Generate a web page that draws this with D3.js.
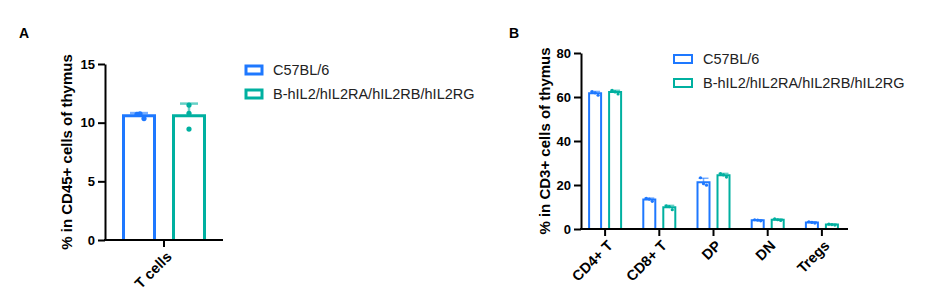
<!DOCTYPE html>
<html>
<head>
<meta charset="utf-8">
<script src="https://cdn.jsdelivr.net/npm/d3@7"></script>
<style>
  body { margin: 0; background: #fff; }
  text { font-family: Arial, "Liberation Sans", sans-serif; }
</style>
</head>
<body>
<script>
// series names and colours (legend order)
var seriesNames = ['C57BL/6', 'B-hIL2/hIL2RA/hIL2RB/hIL2RG'];
var colors = ['#1e78ff', '#00b0a0'];

// panel A: T cells in CD45+ cells, three mice per group
var catsA = ['T cells'];
var a_c57 = [[10.7, 10.75, 10.35]];
var a_hum = [[11.5, 10.8, 9.45]];
var ticksA = [0, 5, 10, 15];

// panel B: subsets in CD3+ cells, three mice per group
var catsB = ['CD4+ T', 'CD8+ T', 'DP', 'DN', 'Tregs'];
var b_c57 = [[62.4, 61.9, 60.8], [13.9, 13.6, 12.6], [23.3, 20.6, 19.9], [4.2, 4.0, 3.7], [3.3, 3.0, 2.7]];
var b_hum = [[63.0, 62.3, 61.4], [10.5, 10.2, 8.8], [25.2, 24.6, 23.6], [4.6, 4.2, 3.9], [2.2, 2.0, 1.8]];
var ticksB = [0, 20, 40, 60, 80];

var svg = d3.select('body').append('svg')
  .attr('width', 928)
  .attr('height', 298);

function stats(v) {
  return { mean: d3.mean(v), sd: d3.deviation(v), pts: v };
}

// draws one bar panel
function panel(opt) {
  var g = svg.append('g');

  var y = d3.scaleLinear().domain(opt.yDomain).range([opt.bottom, opt.top]);
  var x = d3.scaleBand().domain(opt.cats).range(opt.xRange);

  // bars, error bars, points
  opt.series.forEach(function(s, si) {
    s.forEach(function(vals, ci) {
      var st = stats(vals);
      var cx = x(opt.cats[ci]) + x.bandwidth() / 2 + opt.offsets[si];
      var hw = opt.barW / 2;
      var col = colors[si];
      // error (mean + SD only)
      g.append('line')
        .attr('x1', cx).attr('x2', cx)
        .attr('y1', y(st.mean)).attr('y2', y(st.mean + st.sd))
        .attr('stroke', col).attr('stroke-opacity', 0.6).attr('stroke-width', opt.errW);
      g.append('line')
        .attr('x1', cx - opt.capW / 2).attr('x2', cx + opt.capW / 2)
        .attr('y1', y(st.mean + st.sd)).attr('y2', y(st.mean + st.sd))
        .attr('stroke', col).attr('stroke-opacity', 0.6).attr('stroke-width', opt.errW);
      // bar (open, no bottom edge)
      g.append('path')
        .attr('d', 'M' + (cx - hw) + ',' + opt.bottom + 'V' + y(st.mean) + 'H' + (cx + hw) + 'V' + opt.bottom)
        .attr('fill', 'none')
        .attr('stroke', col)
        .attr('stroke-width', opt.barStroke);
      // points
      st.pts.forEach(function(p, pi) {
        g.append('circle')
          .attr('cx', cx + opt.jitter[si][pi])
          .attr('cy', y(p))
          .attr('r', opt.r)
          .attr('fill', col);
      });
    });
  });

  // y axis
  var ya = g.append('g')
    .attr('transform', 'translate(' + opt.xRange0 + ',0)')
    .call(d3.axisLeft(y).tickValues(opt.ticks).tickSize(7).tickSizeOuter(0).tickPadding(3));
  ya.select('.domain').attr('stroke-width', 2);
  ya.selectAll('.tick line').attr('stroke-width', 2);
  ya.selectAll('.tick text').attr('font-size', 13).attr('font-weight', 'bold').attr('fill', '#000')
    .attr('font-family', 'Arial, "Liberation Sans", sans-serif');

  // x axis
  var xa = g.append('g')
    .attr('transform', 'translate(0,' + opt.bottom + ')')
    .call(d3.axisBottom(x).tickSize(7).tickSizeOuter(0));
  xa.select('.domain').remove();
  xa.append('line')
    .attr('x1', opt.xRange0 - 1).attr('x2', opt.xEnd)
    .attr('stroke', '#000').attr('stroke-width', 2);
  xa.selectAll('.tick line').attr('stroke-width', 2);
  xa.selectAll('.tick text')
    .attr('font-size', 14.5).attr('font-weight', 'bold').attr('fill', '#000')
    .attr('font-family', 'Arial, "Liberation Sans", sans-serif')
    .attr('text-anchor', 'end')
    .attr('dy', '0.35em')
    .attr('transform', 'translate(5,14) rotate(-45)')
    .attr('y', 0).attr('x', 0);

  // y title
  svg.append('text')
    .attr('transform', 'translate(' + opt.titleX + ',' + ((opt.top + opt.bottom) / 2) + ') rotate(-90)')
    .attr('text-anchor', 'middle')
    .attr('font-size', 15).attr('font-weight', 'bold')
    .text(opt.title);

  // panel letter
  svg.append('text')
    .attr('x', opt.letterX).attr('y', 38)
    .attr('font-size', 14).attr('font-weight', 'bold')
    .text(opt.letter);

  // legend
  seriesNames.forEach(function(name, i) {
    var ly = opt.legendY + i * opt.legendStep;
    svg.append('rect')
      .attr('x', opt.legendX).attr('y', ly - 4)
      .attr('width', opt.legendW).attr('height', 8)
      .attr('fill', 'none').attr('stroke', colors[i]).attr('stroke-width', opt.legendStroke);
    svg.append('text')
      .attr('x', opt.legendX + opt.legendW + 11).attr('y', ly)
      .attr('dy', '0.35em')
      .attr('font-size', 14.5).attr('fill', '#222')
      .text(name);
  });
}

panel({
  letter: 'A', letterX: 19,
  cats: catsA, series: [a_c57, a_hum],
  yDomain: [0, 15], ticks: ticksA,
  top: 64, bottom: 240,
  xRange: [105, 223], xRange0: 105, xEnd: 223,
  offsets: [-25, 25], barW: 31, barStroke: 3,
  capW: 18, errW: 2.5, r: 2.6,
  jitter: [[-2, 1, 5], [0, 0, 0]],
  title: '% in CD45+ cells of thymus', titleX: 72,
  legendX: 246, legendY: 70, legendStep: 24, legendW: 16, legendStroke: 3
});

panel({
  letter: 'B', letterX: 509,
  cats: catsB, series: [b_c57, b_hum],
  yDomain: [0, 80], ticks: ticksB,
  top: 53, bottom: 229,
  xRange: [578, 849], xRange0: 581, xEnd: 848,
  offsets: [-10, 10], barW: 12, barStroke: 2,
  capW: 10, errW: 1.5, r: 1.6,
  jitter: [[-3, 0, 3], [-3, 0, 3]],
  title: '% in CD3+ cells of thymus', titleX: 550,
  legendX: 674, legendY: 59, legendStep: 24, legendW: 18, legendStroke: 2
});
</script>
</body>
</html>
